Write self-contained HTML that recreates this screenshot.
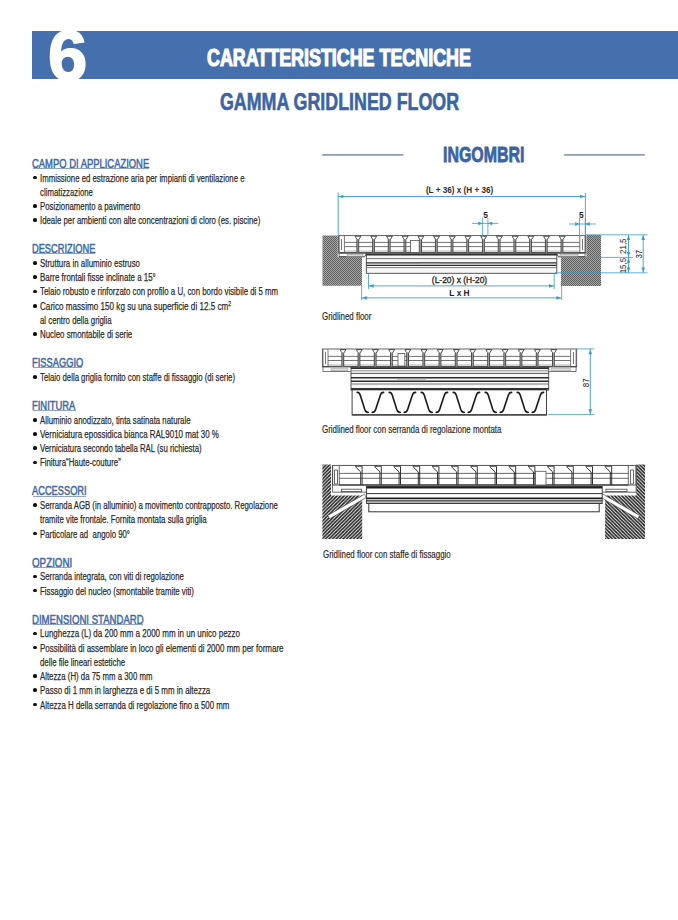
<!DOCTYPE html>
<html><head><meta charset="utf-8">
<style>
html,body{margin:0;padding:0;background:#fff;}
body{width:678px;height:920px;position:relative;overflow:hidden;font-family:"Liberation Sans",sans-serif;}
.t{position:absolute;white-space:nowrap;line-height:1;transform-origin:0 0;}
.band{position:absolute;left:32px;top:31px;width:646px;height:48px;background:#4570ad;}
sup{font-size:7.5px;vertical-align:4.5px;line-height:0;}
svg{position:absolute;left:0;top:0;}
</style></head><body>
<div class="band"></div>
<div class="t" style="left:47.90px;top:20.95px;font-size:70px;color:#ffffff;font-weight:700;transform:scaleX(1.01);-webkit-text-stroke:1.7px #ffffff;">6</div>
<div class="t" style="left:206.80px;top:45.68px;font-size:24.0px;color:#ffffff;font-weight:700;transform:scaleX(0.745);-webkit-text-stroke:1.2px #ffffff;">CARATTERISTICHE TECNICHE</div>
<div class="t" style="left:219.90px;top:90.40px;font-size:24.1px;color:#3a64a3;font-weight:700;transform:scaleX(0.74);-webkit-text-stroke:0.6px #3a64a3;">GAMMA GRIDLINED FLOOR</div>
<div class="t" style="left:443.00px;top:143.95px;font-size:21.8px;color:#3a64a3;font-weight:700;transform:scaleX(0.732);-webkit-text-stroke:0.8px #3a64a3;">INGOMBRI</div>
<div class="t" style="left:31.90px;top:157.75px;font-size:12.2px;color:#3f68a7;font-weight:400;transform:scaleX(0.7725452459016394);-webkit-text-stroke:0.5px #3f68a7;">CAMPO DI APPLICAZIONE</div>
<div style="position:absolute;left:32.5px;top:167.88px;width:116.0px;height:1px;background:#8ea3c4"></div>
<div style="position:absolute;left:33.0px;top:175.67px;width:3.7px;height:3.7px;border-radius:50%;background:#111"></div>
<div class="t" style="left:39.60px;top:171.52px;font-size:11.7px;color:#2b2b2b;font-weight:400;transform:scaleX(0.6683);-webkit-text-stroke:0.25px #2b2b2b;">Immissione ed estrazione aria per impianti di ventilazione e</div>
<div class="t" style="left:39.60px;top:185.76px;font-size:11.7px;color:#2b2b2b;font-weight:400;transform:scaleX(0.6683);-webkit-text-stroke:0.25px #2b2b2b;">climatizzazione</div>
<div style="position:absolute;left:33.0px;top:204.16px;width:3.7px;height:3.7px;border-radius:50%;background:#111"></div>
<div class="t" style="left:39.60px;top:200.01px;font-size:11.7px;color:#2b2b2b;font-weight:400;transform:scaleX(0.6683);-webkit-text-stroke:0.25px #2b2b2b;">Posizionamento a pavimento</div>
<div style="position:absolute;left:33.0px;top:218.41px;width:3.7px;height:3.7px;border-radius:50%;background:#111"></div>
<div class="t" style="left:39.60px;top:214.25px;font-size:11.7px;color:#2b2b2b;font-weight:400;transform:scaleX(0.6687);-webkit-text-stroke:0.25px #2b2b2b;">Ideale per ambienti con alte concentrazioni di cloro (es. piscine)</div>
<div class="t" style="left:31.90px;top:243.22px;font-size:12.2px;color:#3f68a7;font-weight:400;transform:scaleX(0.7604629819672131);-webkit-text-stroke:0.5px #3f68a7;">DESCRIZIONE</div>
<div style="position:absolute;left:32.5px;top:253.34px;width:62.0px;height:1px;background:#8ea3c4"></div>
<div style="position:absolute;left:33.0px;top:261.14px;width:3.7px;height:3.7px;border-radius:50%;background:#111"></div>
<div class="t" style="left:39.60px;top:256.99px;font-size:11.7px;color:#2b2b2b;font-weight:400;transform:scaleX(0.675);-webkit-text-stroke:0.25px #2b2b2b;">Struttura in alluminio estruso</div>
<div style="position:absolute;left:33.0px;top:275.38px;width:3.7px;height:3.7px;border-radius:50%;background:#111"></div>
<div class="t" style="left:39.60px;top:271.23px;font-size:11.7px;color:#2b2b2b;font-weight:400;transform:scaleX(0.677);-webkit-text-stroke:0.25px #2b2b2b;">Barre frontali fisse inclinate a 15°</div>
<div style="position:absolute;left:33.0px;top:289.63px;width:3.7px;height:3.7px;border-radius:50%;background:#111"></div>
<div class="t" style="left:39.60px;top:285.48px;font-size:11.7px;color:#2b2b2b;font-weight:400;transform:scaleX(0.6714);-webkit-text-stroke:0.25px #2b2b2b;">Telaio robusto e rinforzato con profilo a U, con bordo visibile di 5 mm</div>
<div style="position:absolute;left:33.0px;top:303.88px;width:3.7px;height:3.7px;border-radius:50%;background:#111"></div>
<div class="t" style="left:39.60px;top:299.72px;font-size:11.7px;color:#2b2b2b;font-weight:400;transform:scaleX(0.6953);-webkit-text-stroke:0.25px #2b2b2b;">Carico massimo 150 kg su una superficie di 12.5 cm<sup>2</sup></div>
<div class="t" style="left:39.60px;top:313.97px;font-size:11.7px;color:#2b2b2b;font-weight:400;transform:scaleX(0.6683);-webkit-text-stroke:0.25px #2b2b2b;">al centro della griglia</div>
<div style="position:absolute;left:33.0px;top:332.37px;width:3.7px;height:3.7px;border-radius:50%;background:#111"></div>
<div class="t" style="left:39.60px;top:328.21px;font-size:11.7px;color:#2b2b2b;font-weight:400;transform:scaleX(0.673);-webkit-text-stroke:0.25px #2b2b2b;">Nucleo smontabile di serie</div>
<div class="t" style="left:31.90px;top:357.18px;font-size:12.2px;color:#3f68a7;font-weight:400;transform:scaleX(0.7650956065573772);-webkit-text-stroke:0.5px #3f68a7;">FISSAGGIO</div>
<div style="position:absolute;left:32.5px;top:367.31px;width:49.6px;height:1px;background:#8ea3c4"></div>
<div style="position:absolute;left:33.0px;top:375.10px;width:3.7px;height:3.7px;border-radius:50%;background:#111"></div>
<div class="t" style="left:39.60px;top:370.95px;font-size:11.7px;color:#2b2b2b;font-weight:400;transform:scaleX(0.6662);-webkit-text-stroke:0.25px #2b2b2b;">Telaio della griglia fornito con staffe di fissaggio (di serie)</div>
<div class="t" style="left:31.90px;top:399.91px;font-size:12.2px;color:#3f68a7;font-weight:400;transform:scaleX(0.7710337401639343);-webkit-text-stroke:0.5px #3f68a7;">FINITURA</div>
<div style="position:absolute;left:32.5px;top:410.04px;width:43.4px;height:1px;background:#8ea3c4"></div>
<div style="position:absolute;left:33.0px;top:417.83px;width:3.7px;height:3.7px;border-radius:50%;background:#111"></div>
<div class="t" style="left:39.60px;top:413.68px;font-size:11.7px;color:#2b2b2b;font-weight:400;transform:scaleX(0.6676);-webkit-text-stroke:0.25px #2b2b2b;">Alluminio anodizzato, tinta satinata naturale</div>
<div style="position:absolute;left:33.0px;top:432.08px;width:3.7px;height:3.7px;border-radius:50%;background:#111"></div>
<div class="t" style="left:39.60px;top:427.93px;font-size:11.7px;color:#2b2b2b;font-weight:400;transform:scaleX(0.6815);-webkit-text-stroke:0.25px #2b2b2b;">Verniciatura epossidica bianca RAL9010 mat 30 %</div>
<div style="position:absolute;left:33.0px;top:446.32px;width:3.7px;height:3.7px;border-radius:50%;background:#111"></div>
<div class="t" style="left:39.60px;top:442.17px;font-size:11.7px;color:#2b2b2b;font-weight:400;transform:scaleX(0.6662);-webkit-text-stroke:0.25px #2b2b2b;">Verniciatura secondo tabella RAL (su richiesta)</div>
<div style="position:absolute;left:33.0px;top:460.57px;width:3.7px;height:3.7px;border-radius:50%;background:#111"></div>
<div class="t" style="left:39.60px;top:456.42px;font-size:11.7px;color:#2b2b2b;font-weight:400;transform:scaleX(0.6683);-webkit-text-stroke:0.25px #2b2b2b;">Finitura“Haute-couture”</div>
<div class="t" style="left:31.90px;top:485.38px;font-size:12.2px;color:#3f68a7;font-weight:400;transform:scaleX(0.7613215893442623);-webkit-text-stroke:0.5px #3f68a7;">ACCESSORI</div>
<div style="position:absolute;left:32.5px;top:495.51px;width:53.7px;height:1px;background:#8ea3c4"></div>
<div style="position:absolute;left:33.0px;top:503.31px;width:3.7px;height:3.7px;border-radius:50%;background:#111"></div>
<div class="t" style="left:39.60px;top:499.15px;font-size:11.7px;color:#2b2b2b;font-weight:400;transform:scaleX(0.6656);-webkit-text-stroke:0.25px #2b2b2b;">Serranda AGB (in alluminio) a movimento contrapposto. Regolazione</div>
<div class="t" style="left:39.60px;top:513.40px;font-size:11.7px;color:#2b2b2b;font-weight:400;transform:scaleX(0.6683);-webkit-text-stroke:0.25px #2b2b2b;">tramite vite frontale. Fornita montata sulla griglia</div>
<div style="position:absolute;left:33.0px;top:531.80px;width:3.7px;height:3.7px;border-radius:50%;background:#111"></div>
<div class="t" style="left:39.60px;top:527.64px;font-size:11.7px;color:#2b2b2b;font-weight:400;transform:scaleX(0.6683);-webkit-text-stroke:0.25px #2b2b2b;">Particolare ad &nbsp;angolo 90°</div>
<div class="t" style="left:31.90px;top:556.61px;font-size:12.2px;color:#3f68a7;font-weight:400;transform:scaleX(0.8040749237704917);-webkit-text-stroke:0.5px #3f68a7;">OPZIONI</div>
<div style="position:absolute;left:32.5px;top:566.74px;width:38.0px;height:1px;background:#8ea3c4"></div>
<div style="position:absolute;left:33.0px;top:574.53px;width:3.7px;height:3.7px;border-radius:50%;background:#111"></div>
<div class="t" style="left:39.60px;top:570.38px;font-size:11.7px;color:#2b2b2b;font-weight:400;transform:scaleX(0.6669);-webkit-text-stroke:0.25px #2b2b2b;">Serranda integrata, con viti di regolazione</div>
<div style="position:absolute;left:33.0px;top:588.77px;width:3.7px;height:3.7px;border-radius:50%;background:#111"></div>
<div class="t" style="left:39.60px;top:584.62px;font-size:11.7px;color:#2b2b2b;font-weight:400;transform:scaleX(0.6676);-webkit-text-stroke:0.25px #2b2b2b;">Fissaggio del nucleo (smontabile tramite viti)</div>
<div class="t" style="left:31.90px;top:613.59px;font-size:12.2px;color:#3f68a7;font-weight:400;transform:scaleX(0.7868560721311476);-webkit-text-stroke:0.5px #3f68a7;">DIMENSIONI STANDARD</div>
<div style="position:absolute;left:32.5px;top:623.72px;width:110.5px;height:1px;background:#8ea3c4"></div>
<div style="position:absolute;left:33.0px;top:631.51px;width:3.7px;height:3.7px;border-radius:50%;background:#111"></div>
<div class="t" style="left:39.60px;top:627.36px;font-size:11.7px;color:#2b2b2b;font-weight:400;transform:scaleX(0.6842);-webkit-text-stroke:0.25px #2b2b2b;">Lunghezza (L) da 200 mm a 2000 mm in un unico pezzo</div>
<div style="position:absolute;left:33.0px;top:645.75px;width:3.7px;height:3.7px;border-radius:50%;background:#111"></div>
<div class="t" style="left:39.60px;top:641.60px;font-size:11.7px;color:#2b2b2b;font-weight:400;transform:scaleX(0.6842);-webkit-text-stroke:0.25px #2b2b2b;">Possibilità di assemblare in loco gli elementi di 2000 mm per formare</div>
<div class="t" style="left:39.60px;top:655.85px;font-size:11.7px;color:#2b2b2b;font-weight:400;transform:scaleX(0.6683);-webkit-text-stroke:0.25px #2b2b2b;">delle file lineari estetiche</div>
<div style="position:absolute;left:33.0px;top:674.24px;width:3.7px;height:3.7px;border-radius:50%;background:#111"></div>
<div class="t" style="left:39.60px;top:670.09px;font-size:11.7px;color:#2b2b2b;font-weight:400;transform:scaleX(0.6683);-webkit-text-stroke:0.25px #2b2b2b;">Altezza (H) da 75 mm a 300 mm</div>
<div style="position:absolute;left:33.0px;top:688.49px;width:3.7px;height:3.7px;border-radius:50%;background:#111"></div>
<div class="t" style="left:39.60px;top:684.34px;font-size:11.7px;color:#2b2b2b;font-weight:400;transform:scaleX(0.6791);-webkit-text-stroke:0.25px #2b2b2b;">Passo di 1 mm in larghezza e di 5 mm in altezza</div>
<div style="position:absolute;left:33.0px;top:702.73px;width:3.7px;height:3.7px;border-radius:50%;background:#111"></div>
<div class="t" style="left:39.60px;top:698.58px;font-size:11.7px;color:#2b2b2b;font-weight:400;transform:scaleX(0.675);-webkit-text-stroke:0.25px #2b2b2b;">Altezza H della serranda di regolazione fino a 500 mm</div>
<div class="t" style="left:322.40px;top:310.66px;font-size:10.8px;color:#2b2b2b;font-weight:400;transform:scaleX(0.735);-webkit-text-stroke:0.2px #2b2b2b;">Gridlined floor</div>
<div class="t" style="left:322.40px;top:424.06px;font-size:10.8px;color:#2b2b2b;font-weight:400;transform:scaleX(0.731);-webkit-text-stroke:0.2px #2b2b2b;">Gridlined floor con serranda di regolazione montata</div>
<div class="t" style="left:322.70px;top:549.06px;font-size:10.8px;color:#2b2b2b;font-weight:400;transform:scaleX(0.735);-webkit-text-stroke:0.2px #2b2b2b;">Gridlined floor con staffe di fissaggio</div>
<svg width="678" height="920" viewBox="0 0 678 920">
<defs><pattern id="hf" patternUnits="userSpaceOnUse" x="0" y="0" width="2" height="2"><rect width="2" height="2" fill="#a8a8a8"/><rect x="0" y="0" width="1" height="1" fill="#5e5e5e"/><rect x="1" y="1" width="1" height="1" fill="#5e5e5e"/></pattern><pattern id="hb" patternUnits="userSpaceOnUse" x="0" y="0" width="3.5" height="3.5"><path d="M-1,4.5 L4.5,-1 M-1,1 L1,-1 M2.5,4.5 L4.5,2.5" stroke="#1c1c1c" stroke-width="1.55"/></pattern><pattern id="hb2" patternUnits="userSpaceOnUse" x="0" y="0" width="3.5" height="3.5"><path d="M-1,-1 L4.5,4.5 M2.5,-1 L4.5,1 M-1,2.5 L1,4.5" stroke="#1c1c1c" stroke-width="1.55"/></pattern></defs>
<line x1="322.3" y1="154.9" x2="403.4" y2="154.9" stroke="#8d9bb3" stroke-width="1.8"/>
<line x1="564.1" y1="154.9" x2="644.8" y2="154.9" stroke="#8d9bb3" stroke-width="1.8"/>
<polygon points="322.5,235.4 337.8,235.4 337.8,257.2 362,257.2 362,285.8 322.5,285.8" fill="url(#hf)"/>
<polygon points="586.4,234.9 601.1,234.9 601.1,286 560.9,286 560.9,257.2 586.4,257.2" fill="url(#hf)"/>
<rect x="338.6" y="235.6" width="247" height="17.3" fill="#fdfdfd" stroke="#555" stroke-width="0.9"/>
<rect x="344.4" y="250.2" width="235.4" height="2.6" fill="#d6d6d6" stroke="none" stroke-width="0"/>
<line x1="344.4" y1="242.4" x2="579.8" y2="242.4" stroke="#505050" stroke-width="0.8"/>
<line x1="344.4" y1="246.6" x2="579.8" y2="246.6" stroke="#505050" stroke-width="0.8"/>
<line x1="338.6" y1="252.9" x2="585.6" y2="252.9" stroke="#333" stroke-width="1.1"/>
<path d="M339.2,236 L339.2,256.8 L346,256.8 M344.4,236 L344.4,252.9 M341.5,239 L341.5,250" stroke="#555" stroke-width="0.8" fill="none"/>
<path d="M585,236 L585,256.8 L578,256.8 M579.8,236 L579.8,252.9 M582.5,239 L582.5,250" stroke="#555" stroke-width="0.8" fill="none"/>
<path d="M338.6,256.8 L364.5,256.8 L366.3,254 M585.6,256.8 L558.5,256.8 L556.8,254" stroke="#444" stroke-width="1" fill="none"/>
<rect x="347" y="254.3" width="16" height="1.8" fill="#e4e4e4" stroke="#888" stroke-width="0.5"/>
<rect x="560" y="254.3" width="18" height="1.8" fill="#e4e4e4" stroke="#888" stroke-width="0.5"/>
<rect x="366.3" y="253.2" width="190.5" height="20.1" fill="#f7f7f7" stroke="#444" stroke-width="0.9"/>
<line x1="366.3" y1="254.6" x2="556.8" y2="254.6" stroke="#2e2e2e" stroke-width="1.8"/>
<line x1="366.3" y1="258.6" x2="556.8" y2="258.6" stroke="#555" stroke-width="0.8"/>
<line x1="366.3" y1="262.8" x2="556.8" y2="262.8" stroke="#2e2e2e" stroke-width="1.3"/>
<line x1="366.3" y1="265.4" x2="556.8" y2="265.4" stroke="#2e2e2e" stroke-width="1.3"/>
<line x1="366.3" y1="267.6" x2="556.8" y2="267.6" stroke="#666" stroke-width="0.8"/>
<line x1="420" y1="264.1" x2="440" y2="264.1" stroke="#bbb" stroke-width="0.8"/>
<path d="M356.9,239.1 L358.7,239.1 L358.7,252.6 L356.9,252.6 Z M372.6,239.1 L374.4,239.1 L374.4,252.6 L372.6,252.6 Z M388.31,239.1 L390.11,239.1 L390.11,252.6 L388.31,252.6 Z M404.01,239.1 L405.81,239.1 L405.81,252.6 L404.01,252.6 Z M419.72,239.1 L421.52,239.1 L421.52,252.6 L419.72,252.6 Z M435.42,239.1 L437.22,239.1 L437.22,252.6 L435.42,252.6 Z M451.13,239.1 L452.93,239.1 L452.93,252.6 L451.13,252.6 Z M466.83,239.1 L468.63,239.1 L468.63,252.6 L466.83,252.6 Z M482.54,239.1 L484.34,239.1 L484.34,252.6 L482.54,252.6 Z M498.25,239.1 L500.04,239.1 L500.04,252.6 L498.25,252.6 Z M513.95,239.1 L515.75,239.1 L515.75,252.6 L513.95,252.6 Z M529.65,239.1 L531.45,239.1 L531.45,252.6 L529.65,252.6 Z M545.36,239.1 L547.16,239.1 L547.16,252.6 L545.36,252.6 Z M561.06,239.1 L562.86,239.1 L562.86,252.6 L561.06,252.6 Z" fill="#b0b0b0" stroke="none"/><path d="M355.2,236.2 L361,236.2 L358.7,239.8 L358.7,252.6 M355.2,236.2 Q356.2,238.8 356.9,239 L356.9,252.6 M370.9,236.2 L376.7,236.2 L374.4,239.8 L374.4,252.6 M370.9,236.2 Q371.9,238.8 372.6,239 L372.6,252.6 M386.61,236.2 L392.41,236.2 L390.11,239.8 L390.11,252.6 M386.61,236.2 Q387.61,238.8 388.31,239 L388.31,252.6 M402.31,236.2 L408.11,236.2 L405.81,239.8 L405.81,252.6 M402.31,236.2 Q403.31,238.8 404.01,239 L404.01,252.6 M418.02,236.2 L423.82,236.2 L421.52,239.8 L421.52,252.6 M418.02,236.2 Q419.02,238.8 419.72,239 L419.72,252.6 M433.72,236.2 L439.52,236.2 L437.22,239.8 L437.22,252.6 M433.72,236.2 Q434.72,238.8 435.42,239 L435.42,252.6 M449.43,236.2 L455.23,236.2 L452.93,239.8 L452.93,252.6 M449.43,236.2 Q450.43,238.8 451.13,239 L451.13,252.6 M465.13,236.2 L470.93,236.2 L468.63,239.8 L468.63,252.6 M465.13,236.2 Q466.13,238.8 466.83,239 L466.83,252.6 M480.84,236.2 L486.64,236.2 L484.34,239.8 L484.34,252.6 M480.84,236.2 Q481.84,238.8 482.54,239 L482.54,252.6 M496.54,236.2 L502.34,236.2 L500.04,239.8 L500.04,252.6 M496.54,236.2 Q497.54,238.8 498.25,239 L498.25,252.6 M512.25,236.2 L518.05,236.2 L515.75,239.8 L515.75,252.6 M512.25,236.2 Q513.25,238.8 513.95,239 L513.95,252.6 M527.95,236.2 L533.75,236.2 L531.45,239.8 L531.45,252.6 M527.95,236.2 Q528.95,238.8 529.65,239 L529.65,252.6 M543.66,236.2 L549.46,236.2 L547.16,239.8 L547.16,252.6 M543.66,236.2 Q544.66,238.8 545.36,239 L545.36,252.6 M559.36,236.2 L565.16,236.2 L562.86,239.8 L562.86,252.6 M559.36,236.2 Q560.36,238.8 561.06,239 L561.06,252.6" stroke="#3c3c3c" stroke-width="0.9" fill="none"/>
<rect x="410.5" y="240.5" width="8.7" height="12" fill="#fff" stroke="#555" stroke-width="0.8"/>
<line x1="338.2" y1="192.5" x2="338.2" y2="236" stroke="#3d9ccc" stroke-width="0.9"/>
<line x1="585.4" y1="193" x2="585.4" y2="235" stroke="#3d9ccc" stroke-width="0.9"/>
<line x1="338.2" y1="196.5" x2="585.4" y2="196.5" stroke="#3d9ccc" stroke-width="0.9"/>
<polygon points="338.6,196.5 343.4,194.7 343.4,198.3" fill="#3d9ccc"/>
<polygon points="585,196.5 580.2,194.7 580.2,198.3" fill="#3d9ccc"/>
<text transform="translate(459.6,193.4) scale(0.95,1)" font-family="Liberation Sans" font-size="8.6" font-weight="700" fill="#2d2d2d" text-anchor="middle">(L + 36) x (H + 36)</text>
<line x1="482.6" y1="218" x2="482.6" y2="236" stroke="#3d9ccc" stroke-width="0.8"/>
<line x1="487.9" y1="218" x2="487.9" y2="236" stroke="#3d9ccc" stroke-width="0.8"/>
<line x1="472.1" y1="223.4" x2="498.4" y2="223.4" stroke="#3d9ccc" stroke-width="0.8"/>
<polygon points="482.6,223.4 478.2,221.5 478.2,225.3" fill="#3d9ccc"/>
<polygon points="487.9,223.4 492.3,221.5 492.3,225.3" fill="#3d9ccc"/>
<text transform="translate(485.6,217.8) scale(0.95,1)" font-family="Liberation Sans" font-size="8.8" font-weight="700" fill="#222" text-anchor="middle">5</text>
<line x1="579.5" y1="218" x2="579.5" y2="236" stroke="#3d9ccc" stroke-width="0.8"/>
<line x1="585.4" y1="218" x2="585.4" y2="236" stroke="#3d9ccc" stroke-width="0.8"/>
<line x1="569" y1="224" x2="595.9" y2="224" stroke="#3d9ccc" stroke-width="0.8"/>
<polygon points="579.5,224 575.1,222.1 575.1,225.9" fill="#3d9ccc"/>
<polygon points="585.4,224 589.8,222.1 589.8,225.9" fill="#3d9ccc"/>
<text transform="translate(581.4,217.8) scale(0.95,1)" font-family="Liberation Sans" font-size="8.8" font-weight="700" fill="#222" text-anchor="middle">5</text>
<line x1="586" y1="234.8" x2="647.5" y2="234.8" stroke="#3d9ccc" stroke-width="0.8"/>
<line x1="584" y1="257.4" x2="633" y2="257.4" stroke="#3d9ccc" stroke-width="0.8"/>
<line x1="555" y1="272.8" x2="647.5" y2="272.8" stroke="#3d9ccc" stroke-width="0.8"/>
<line x1="628.5" y1="234.8" x2="628.5" y2="272.8" stroke="#3d9ccc" stroke-width="0.9"/>
<polygon points="628.5,235.3 626.7,240.1 630.3,240.1" fill="#3d9ccc"/>
<polygon points="628.5,256.9 626.7,252.1 630.3,252.1" fill="#3d9ccc"/>
<polygon points="628.5,257.9 626.7,262.7 630.3,262.7" fill="#3d9ccc"/>
<polygon points="628.5,272.3 626.7,267.5 630.3,267.5" fill="#3d9ccc"/>
<line x1="643.2" y1="234.8" x2="643.2" y2="272.8" stroke="#3d9ccc" stroke-width="0.9"/>
<polygon points="643.2,235.3 641.4,240.1 645,240.1" fill="#3d9ccc"/>
<polygon points="643.2,272.3 641.4,267.5 645,267.5" fill="#3d9ccc"/>
<text transform="translate(626.4,246.2) rotate(-90) scale(0.9,1)" font-family="Liberation Sans" font-size="8.8" font-weight="400" fill="#222" text-anchor="middle">21,5</text>
<text transform="translate(626.4,265.6) rotate(-90) scale(0.9,1)" font-family="Liberation Sans" font-size="8.8" font-weight="400" fill="#222" text-anchor="middle">15,5</text>
<text transform="translate(642,254.2) rotate(-90) scale(0.9,1)" font-family="Liberation Sans" font-size="8.8" font-weight="400" fill="#222" text-anchor="middle">37</text>
<line x1="368.5" y1="274" x2="368.5" y2="289" stroke="#3d9ccc" stroke-width="0.8"/>
<line x1="554.2" y1="273.3" x2="554.2" y2="289" stroke="#3d9ccc" stroke-width="0.8"/>
<line x1="368.5" y1="285.9" x2="554.2" y2="285.9" stroke="#3d9ccc" stroke-width="0.9"/>
<polygon points="368.9,285.9 373.7,284.1 373.7,287.7" fill="#3d9ccc"/>
<polygon points="553.8,285.9 549,284.1 549,287.7" fill="#3d9ccc"/>
<text transform="translate(459.5,283.4) scale(0.96,1)" font-family="Liberation Sans" font-size="8.8" font-weight="400" fill="#2a2a2a" text-anchor="middle" stroke="#2a2a2a" stroke-width="0.35">(L-20) x (H-20)</text>
<line x1="361.6" y1="286" x2="361.6" y2="300" stroke="#3d9ccc" stroke-width="0.8"/>
<line x1="561.6" y1="286" x2="561.6" y2="300" stroke="#3d9ccc" stroke-width="0.8"/>
<line x1="361.6" y1="297.9" x2="561.6" y2="297.9" stroke="#3d9ccc" stroke-width="0.9"/>
<polygon points="362,297.9 366.8,296.1 366.8,299.7" fill="#3d9ccc"/>
<polygon points="561.2,297.9 556.4,296.1 556.4,299.7" fill="#3d9ccc"/>
<text transform="translate(459.5,296) scale(0.95,1)" font-family="Liberation Sans" font-size="8.8" font-weight="700" fill="#222" text-anchor="middle">L x H</text>
<rect x="322.4" y="349" width="254.3" height="17.7" fill="#fdfdfd" stroke="#555" stroke-width="0.9"/>
<rect x="328" y="364" width="242.4" height="2.7" fill="#d6d6d6" stroke="none" stroke-width="0"/>
<line x1="328" y1="356.4" x2="570.4" y2="356.4" stroke="#505050" stroke-width="0.8"/>
<line x1="328" y1="360.5" x2="570.4" y2="360.5" stroke="#505050" stroke-width="0.8"/>
<line x1="322.4" y1="366.7" x2="576.7" y2="366.7" stroke="#333" stroke-width="1.1"/>
<path d="M323,349.5 L323,371.5 L350.4,371.5 M328,349.5 L328,366.7 M325.5,352 L325.5,364" stroke="#555" stroke-width="0.8" fill="none"/>
<path d="M576.1,349.5 L576.1,371.5 L548.7,371.5 M570.6,349.5 L570.6,366.7 M573.5,352 L573.5,364" stroke="#555" stroke-width="0.8" fill="none"/>
<rect x="331" y="368.8" width="17" height="1.8" fill="#e4e4e4" stroke="#888" stroke-width="0.5"/>
<rect x="551" y="368.8" width="20" height="1.8" fill="#e4e4e4" stroke="#888" stroke-width="0.5"/>
<rect x="351" y="367" width="197.7" height="23.1" fill="#f7f7f7" stroke="#444" stroke-width="0.9"/>
<line x1="351" y1="368.2" x2="548.7" y2="368.2" stroke="#2e2e2e" stroke-width="1.8"/>
<line x1="351" y1="370.8" x2="548.7" y2="370.8" stroke="#777" stroke-width="0.8"/>
<line x1="351" y1="373.4" x2="548.7" y2="373.4" stroke="#444" stroke-width="0.9"/>
<line x1="351" y1="377.7" x2="548.7" y2="377.7" stroke="#2e2e2e" stroke-width="1.6"/>
<line x1="351" y1="381.2" x2="548.7" y2="381.2" stroke="#2e2e2e" stroke-width="1.6"/>
<line x1="351" y1="384" x2="548.7" y2="384" stroke="#555" stroke-width="0.8"/>
<line x1="351" y1="388.8" x2="548.7" y2="388.8" stroke="#2e2e2e" stroke-width="1.6"/>
<line x1="397" y1="379.5" x2="426" y2="379.5" stroke="#bbb" stroke-width="0.8"/>
<path d="M341.9,352.5 L343.7,352.5 L343.7,366.4 L341.9,366.4 Z M358.1,352.5 L359.9,352.5 L359.9,366.4 L358.1,366.4 Z M374.3,352.5 L376.1,352.5 L376.1,366.4 L374.3,366.4 Z M390.5,352.5 L392.3,352.5 L392.3,366.4 L390.5,366.4 Z M406.7,352.5 L408.5,352.5 L408.5,366.4 L406.7,366.4 Z M422.9,352.5 L424.7,352.5 L424.7,366.4 L422.9,366.4 Z M439.1,352.5 L440.9,352.5 L440.9,366.4 L439.1,366.4 Z M455.3,352.5 L457.1,352.5 L457.1,366.4 L455.3,366.4 Z M471.5,352.5 L473.3,352.5 L473.3,366.4 L471.5,366.4 Z M487.7,352.5 L489.5,352.5 L489.5,366.4 L487.7,366.4 Z M503.9,352.5 L505.7,352.5 L505.7,366.4 L503.9,366.4 Z M520.1,352.5 L521.9,352.5 L521.9,366.4 L520.1,366.4 Z M536.3,352.5 L538.1,352.5 L538.1,366.4 L536.3,366.4 Z M552.5,352.5 L554.3,352.5 L554.3,366.4 L552.5,366.4 Z" fill="#b0b0b0" stroke="none"/><path d="M340.2,349.6 L346,349.6 L343.7,353.2 L343.7,366.4 M340.2,349.6 Q341.2,352.2 341.9,352.4 L341.9,366.4 M356.4,349.6 L362.2,349.6 L359.9,353.2 L359.9,366.4 M356.4,349.6 Q357.4,352.2 358.1,352.4 L358.1,366.4 M372.6,349.6 L378.4,349.6 L376.1,353.2 L376.1,366.4 M372.6,349.6 Q373.6,352.2 374.3,352.4 L374.3,366.4 M388.8,349.6 L394.6,349.6 L392.3,353.2 L392.3,366.4 M388.8,349.6 Q389.8,352.2 390.5,352.4 L390.5,366.4 M405,349.6 L410.8,349.6 L408.5,353.2 L408.5,366.4 M405,349.6 Q406,352.2 406.7,352.4 L406.7,366.4 M421.2,349.6 L427,349.6 L424.7,353.2 L424.7,366.4 M421.2,349.6 Q422.2,352.2 422.9,352.4 L422.9,366.4 M437.4,349.6 L443.2,349.6 L440.9,353.2 L440.9,366.4 M437.4,349.6 Q438.4,352.2 439.1,352.4 L439.1,366.4 M453.6,349.6 L459.4,349.6 L457.1,353.2 L457.1,366.4 M453.6,349.6 Q454.6,352.2 455.3,352.4 L455.3,366.4 M469.8,349.6 L475.6,349.6 L473.3,353.2 L473.3,366.4 M469.8,349.6 Q470.8,352.2 471.5,352.4 L471.5,366.4 M486,349.6 L491.8,349.6 L489.5,353.2 L489.5,366.4 M486,349.6 Q487,352.2 487.7,352.4 L487.7,366.4 M502.2,349.6 L508,349.6 L505.7,353.2 L505.7,366.4 M502.2,349.6 Q503.2,352.2 503.9,352.4 L503.9,366.4 M518.4,349.6 L524.2,349.6 L521.9,353.2 L521.9,366.4 M518.4,349.6 Q519.4,352.2 520.1,352.4 L520.1,366.4 M534.6,349.6 L540.4,349.6 L538.1,353.2 L538.1,366.4 M534.6,349.6 Q535.6,352.2 536.3,352.4 L536.3,366.4 M550.8,349.6 L556.6,349.6 L554.3,353.2 L554.3,366.4 M550.8,349.6 Q551.8,352.2 552.5,352.4 L552.5,366.4" stroke="#3c3c3c" stroke-width="0.9" fill="none"/>
<rect x="398" y="353.5" width="6.8" height="12.5" fill="#fff" stroke="#555" stroke-width="0.8"/>
<rect x="352.1" y="389.6" width="194.4" height="25.3" fill="#fff" stroke="#444" stroke-width="1.0"/>
<line x1="352.1" y1="389.4" x2="546.5" y2="389.4" stroke="#333" stroke-width="1.6"/>
<line x1="352.1" y1="414.9" x2="546.5" y2="414.9" stroke="#333" stroke-width="1.4"/>
<path d="M357.2,392.4 Q359.2,392.2 360.2,395 L364.8,409.6 Q366,412.5 368.2,412.4 M372.2,412.4 Q374.4,412.5 375.6,409.6 L380.4,395 Q381.4,392.2 383.6,392.4 M389.2,392.4 Q391.2,392.2 392.2,395 L396.8,409.6 Q398,412.5 400.2,412.4 M404.2,412.4 Q406.4,412.5 407.6,409.6 L412.4,395 Q413.4,392.2 415.6,392.4 M421.2,392.4 Q423.2,392.2 424.2,395 L428.8,409.6 Q430,412.5 432.2,412.4 M436.2,412.4 Q438.4,412.5 439.6,409.6 L444.4,395 Q445.4,392.2 447.6,392.4 M453.2,392.4 Q455.2,392.2 456.2,395 L460.8,409.6 Q462,412.5 464.2,412.4 M468.2,412.4 Q470.4,412.5 471.6,409.6 L476.4,395 Q477.4,392.2 479.6,392.4 M485.2,392.4 Q487.2,392.2 488.2,395 L492.8,409.6 Q494,412.5 496.2,412.4 M500.2,412.4 Q502.4,412.5 503.6,409.6 L508.4,395 Q509.4,392.2 511.6,392.4 M517.2,392.4 Q519.2,392.2 520.2,395 L524.8,409.6 Q526,412.5 528.2,412.4 M532.2,412.4 Q534.4,412.5 535.6,409.6 L540.4,395 Q541.4,392.2 543.6,392.4" stroke="#1a1a1a" stroke-width="1.6" fill="none" stroke-linecap="round"/>
<line x1="576.7" y1="348.9" x2="594.4" y2="348.9" stroke="#3d9ccc" stroke-width="0.8"/>
<line x1="548" y1="414.6" x2="594.4" y2="414.6" stroke="#3d9ccc" stroke-width="0.8"/>
<line x1="590.3" y1="348.9" x2="590.3" y2="414.6" stroke="#3d9ccc" stroke-width="0.9"/>
<polygon points="590.3,349.4 588.5,354.2 592.1,354.2" fill="#3d9ccc"/>
<polygon points="590.3,414.1 588.5,409.3 592.1,409.3" fill="#3d9ccc"/>
<text transform="translate(588.6,382.8) rotate(-90) scale(0.9,1)" font-family="Liberation Sans" font-size="8.8" font-weight="400" fill="#222" text-anchor="middle">87</text>
<polygon points="322.4,464.6 331,464.6 331,495.5 362.2,495.5 362.2,539.1 322.4,539.1" fill="url(#hb)"/>
<polygon points="636.3,464.6 645,464.6 645,539.1 605.1,539.1 605.1,495.5 636.3,495.5" fill="url(#hb2)"/>
<polygon points="327.8,515.4 364.5,494.2 366.2,497.6 329.6,518.8" fill="#fff" stroke="#444" stroke-width="0.6"/>
<polygon points="639.6,515.4 602.9,494.2 601.2,497.6 637.8,518.8" fill="#fff" stroke="#444" stroke-width="0.6"/>
<rect x="332.6" y="465.4" width="303.5" height="19.6" fill="#fff" stroke="#444" stroke-width="0.9"/>
<line x1="339.3" y1="473.4" x2="628.3" y2="473.4" stroke="#444" stroke-width="0.8"/>
<line x1="339.3" y1="478.3" x2="628.3" y2="478.3" stroke="#444" stroke-width="0.8"/>
<line x1="339.3" y1="485" x2="628.3" y2="485" stroke="#222" stroke-width="1.2"/>
<path d="M332.6,465.4 L332.6,492.2 L366.6,492.2 M339.3,466 L339.3,485 M334.5,470 L334.5,484 L337.5,484 L337.5,470 Z" stroke="#444" stroke-width="0.8" fill="none"/>
<path d="M636.1,465.4 L636.1,492.2 L602.2,492.2 M628.3,466 L628.3,485 M630.5,470 L630.5,484 L633.5,484 L633.5,470 Z" stroke="#444" stroke-width="0.8" fill="none"/>
<rect x="341.5" y="489.2" width="20" height="2.4" fill="#fff" stroke="#444" stroke-width="0.8"/>
<rect x="606" y="489.2" width="21" height="2.4" fill="#fff" stroke="#444" stroke-width="0.8"/>
<rect x="366.6" y="486.4" width="235.6" height="17" fill="#fff" stroke="#333" stroke-width="0.9"/>
<line x1="366.6" y1="487.4" x2="602.2" y2="487.4" stroke="#1e1e1e" stroke-width="2.0"/>
<line x1="366.6" y1="493.6" x2="602.2" y2="493.6" stroke="#333" stroke-width="1.0"/>
<line x1="366.6" y1="498.4" x2="602.2" y2="498.4" stroke="#1e1e1e" stroke-width="1.8"/>
<line x1="366.6" y1="500.8" x2="602.2" y2="500.8" stroke="#2a2a2a" stroke-width="1.2"/>
<line x1="366.6" y1="503.3" x2="602.2" y2="503.3" stroke="#333" stroke-width="1.2"/>
<rect x="368.8" y="503.4" width="230.4" height="8.4" fill="#fff" stroke="#333" stroke-width="1.0"/>
<path d="M355.2,466.2 L362.2,466.2 M355.7,466.4 L356.2,467.6 L360.7,471.9 L360.7,485 M362.1,466.4 L362.1,485 M374.4,466.2 L381.4,466.2 M374.9,466.4 L375.4,467.6 L379.9,471.9 L379.9,485 M381.3,466.4 L381.3,485 M393.6,466.2 L400.6,466.2 M394.1,466.4 L394.6,467.6 L399.1,471.9 L399.1,485 M400.5,466.4 L400.5,485 M412.8,466.2 L419.8,466.2 M413.3,466.4 L413.8,467.6 L418.3,471.9 L418.3,485 M419.7,466.4 L419.7,485 M432,466.2 L439,466.2 M432.5,466.4 L433,467.6 L437.5,471.9 L437.5,485 M438.9,466.4 L438.9,485 M451.2,466.2 L458.2,466.2 M451.7,466.4 L452.2,467.6 L456.7,471.9 L456.7,485 M458.1,466.4 L458.1,485 M470.4,466.2 L477.4,466.2 M470.9,466.4 L471.4,467.6 L475.9,471.9 L475.9,485 M477.3,466.4 L477.3,485 M489.6,466.2 L496.6,466.2 M490.1,466.4 L490.6,467.6 L495.1,471.9 L495.1,485 M496.5,466.4 L496.5,485 M508.8,466.2 L515.8,466.2 M509.3,466.4 L509.8,467.6 L514.3,471.9 L514.3,485 M515.7,466.4 L515.7,485 M528,466.2 L535,466.2 M528.5,466.4 L529,467.6 L533.5,471.9 L533.5,485 M534.9,466.4 L534.9,485 M547.2,466.2 L554.2,466.2 M547.7,466.4 L548.2,467.6 L552.7,471.9 L552.7,485 M554.1,466.4 L554.1,485 M566.4,466.2 L573.4,466.2 M566.9,466.4 L567.4,467.6 L571.9,471.9 L571.9,485 M573.3,466.4 L573.3,485 M585.6,466.2 L592.6,466.2 M586.1,466.4 L586.6,467.6 L591.1,471.9 L591.1,485 M592.5,466.4 L592.5,485 M604.8,466.2 L611.8,466.2 M605.3,466.4 L605.8,467.6 L610.3,471.9 L610.3,485 M611.7,466.4 L611.7,485" stroke="#333" stroke-width="1" fill="none"/>
<rect x="535.5" y="471.3" width="10.5" height="13.7" fill="#fff" stroke="#555" stroke-width="0.8"/>
</svg></body></html>
